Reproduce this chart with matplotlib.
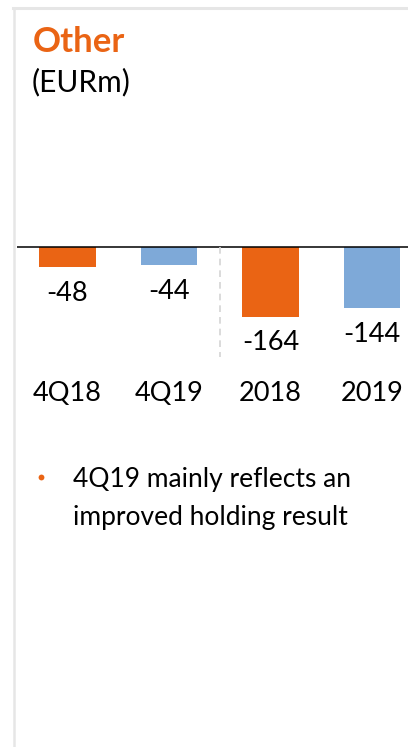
import matplotlib.pyplot as plt
from matplotlib.lines import Line2D

plt.rcParams['font.family'] = ['Lato', 'DejaVu Sans']

# data
periods = ['4Q18', '4Q19', '2018', '2019']
values = [-48, -44, -164, -144]
bar_colors = ['#EA6414', '#7EA9D8', '#EA6414', '#7EA9D8']
title = 'Other'
unit = '(EURm)'
note_lines = ['4Q19 mainly reflects an', 'improved holding result']

ORANGE = '#EA6414'
W, H = 408, 747


def fx(x):
    return x / W


def fy(y):
    return 1 - y / H


fig = plt.figure(figsize=(W / 100, H / 100), dpi=100)

# panel frame (light gray top + left border)
fig.add_artist(Line2D([fx(13), fx(408)], [fy(8), fy(8)], color='#e6e6e6', lw=2.2))
fig.add_artist(Line2D([fx(14), fx(14)], [fy(8), fy(747)], color='#e6e6e6', lw=1.8))

fig.text(fx(33), fy(42), title, color=ORANGE, fontsize=25, fontweight='bold', va='center')
fig.text(fx(32), fy(82), unit, color='black', fontsize=21.5, va='center')

# bar chart axes, positioned in pixels
left, right, top, bottom = 17, 408, 200, 375
base_y = 246.7
px_per_unit = 0.427
ax = fig.add_axes([fx(left), fy(bottom), (right - left) / W, (bottom - top) / H])
ax.set_ylim(-(bottom - base_y) / px_per_unit, (base_y - top) / px_per_unit)
ax.set_xlim(-0.4975, -0.4975 + (right - left) / 101.5)

x = range(len(periods))
ax.bar(x, values, width=0.56, color=bar_colors)
ax.axhline(0, color='black', lw=1.1)
ax.plot([1.5, 1.5], [0, -258], color='#d4d4d4', lw=1.2, ls=(0, (4, 3)))

for i, v in enumerate(values):
    ax.annotate(f'{v}', (i, v), xytext=(0, -26), textcoords='offset pixels',
                ha='center', va='center', fontsize=19.5)

ax.set_xticks(list(x))
ax.set_xticklabels(periods, fontsize=19.5)
ax.tick_params(axis='x', length=0, pad=4)
ax.set_yticks([])
for s in ax.spines.values():
    s.set_visible(False)
ax.patch.set_alpha(0)

# bullet note
fig.add_artist(Line2D([fx(41)], [fy(477)], marker='o', ms=4.2, color=ORANGE, mew=0))
for k, line in enumerate(note_lines):
    fig.text(fx(73), fy(479 + 38 * k), line, fontsize=19, va='center')

fig.savefig('out.png', dpi=100)
